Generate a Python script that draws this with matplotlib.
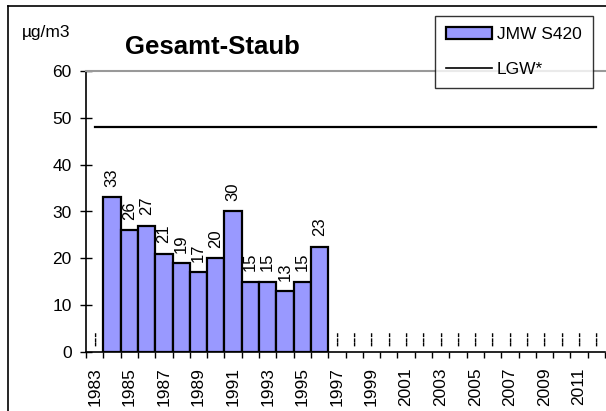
import matplotlib
matplotlib.use("Agg")
import matplotlib.pyplot as plt
from matplotlib.patches import Patch
from matplotlib.lines import Line2D
import numpy as np

plt.rcParams['font.family'] = ['Liberation Sans', 'DejaVu Sans']

years = list(range(1983, 2013))
values = [None, 33, 26, 27, 21, 19, 17, 20, 30, 15, 15, 13, 15, 22.5] + [None] * 16
labels = [None, "33", "26", "27", "21", "19", "17", "20", "30", "15", "15", "13", "15", "23"] + [None] * 16
lgw = 48
series_name = "JMW S420"
lgw_name = "LGW*"
title = "Gesamt-Staub"
unit = "µg/m3"

W, H = 606, 411
fig = plt.figure(figsize=(W / 100, H / 100), dpi=100)
ax = fig.add_axes([86 / W, (H - 352) / H, (605 - 86) / W, (352 - 71) / H])

x = np.arange(len(years))
bx = [i for i, v in zip(x, values) if v is not None]
bv = [v for v in values if v is not None]
ax.bar(bx, bv, width=1.0, color="#9999FF", edgecolor="black", linewidth=1.6, zorder=2)

for i, v, lab in zip(x, values, labels):
    if v is not None:
        ax.annotate(lab, (i, v), xytext=(0, 7.5), textcoords="offset points",
                    rotation=90, ha="center", va="bottom", fontsize=12)
    else:
        ax.annotate("---", (i, 0), xytext=(0, 4.5), textcoords="offset points",
                    rotation=90, ha="center", va="bottom", fontsize=11, fontweight="bold")

ax.plot([x[0], x[-1]], [lgw, lgw], color="black", linewidth=1.6, zorder=3)

ax.set_xlim(-0.5, len(years) - 0.5)
ax.set_ylim(0, 60)
ax.set_yticks(range(0, 61, 10))
ax.tick_params(axis="y", direction="inout", length=8.6, width=1, labelsize=12.5, pad=6)
ax.set_xticks(x[::2])
ax.set_xticklabels([str(y) for y in years[::2]], rotation=90, fontsize=12.5)
ax.set_xticks(np.arange(-0.5, len(years), 1), minor=True)
ax.tick_params(axis="x", which="major", length=0, pad=11)
ax.tick_params(axis="x", which="minor", direction="out", length=4, width=1)

ax.spines["right"].set_visible(False)
ax.spines["top"].set_color("#999999")
ax.spines["top"].set_linewidth(1.5)
ax.spines["left"].set_linewidth(1.2)
ax.spines["bottom"].set_linewidth(1.2)

fig.text(22 / W, 1 - 33 / H, unit, fontsize=12.5, ha="left", va="center")
fig.text(212 / W, 1 - 47 / H, title, fontsize=18.5, fontweight="bold", ha="center", va="center")

handles = [Patch(facecolor="#9999FF", edgecolor="black", linewidth=1.6),
           Line2D([0], [0], color="black", linewidth=1.2)]
leg = fig.legend(handles, [series_name, lgw_name], loc="upper left",
                 bbox_to_anchor=(435 / W, 1 - 16 / H), bbox_transform=fig.transFigure,
                 fontsize=12.5, frameon=True, fancybox=False, handlelength=2.65,
                 handletextpad=0.25, borderpad=0.65, labelspacing=1.1, borderaxespad=0)
leg.get_frame().set_edgecolor("black")
leg.get_frame().set_linewidth(1.0)

# outer frame lines
fig.add_artist(Line2D([8 / W, 1], [1 - 6.5 / H, 1 - 6.5 / H], color="black", linewidth=1.2, transform=fig.transFigure))
fig.add_artist(Line2D([8 / W, 8 / W], [0, 1 - 6.5 / H], color="black", linewidth=1.2, transform=fig.transFigure))

fig.savefig("out.png", dpi=100)
